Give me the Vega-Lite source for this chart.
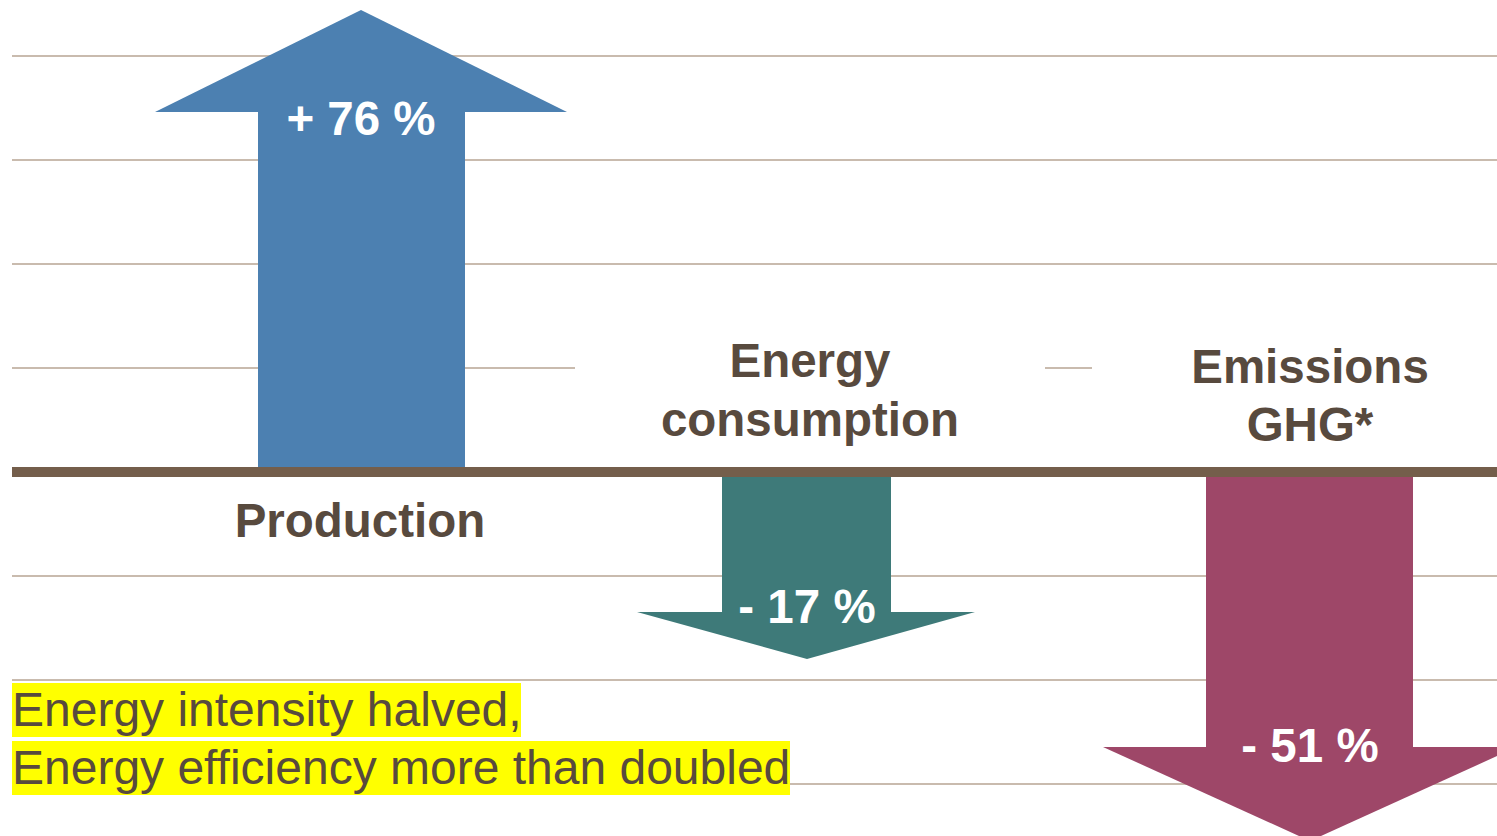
{
  "$schema": "https://vega.github.io/schema/vega-lite/v6.json",
  "width": 1497,
  "height": 836,
  "padding": 0,
  "autosize": {"type": "none"},
  "background": "white",
  "config": {"view": {"stroke": null}, "text": {"font": "Liberation Sans"}},
  "datasets": {
    "grid": [
      {"x": 12, "x2": 1497, "y": 80},
      {"x": 12, "x2": 1497, "y": 60},
      {"x": 12, "x2": 1497, "y": 40},
      {"x": 12, "x2": 575, "y": 20},
      {"x": 1045, "x2": 1092, "y": 20},
      {"x": 12, "x2": 1497, "y": -20},
      {"x": 12, "x2": 1497, "y": -40},
      {"x": 12, "x2": 1497, "y": -60}
    ],
    "baseline": [{"x": 12, "x2": 1497, "y": 0}],
    "boxes": [
      {"x": 12, "x2": 521, "y": -40.58, "y2": -50.96},
      {"x": 12, "x2": 790, "y": -51.73, "y2": -62.12}
    ],
    "shafts": [
      {"arrow": "Production", "x": 258, "x2": 465, "y": 0, "y2": 75},
      {"arrow": "Energy consumption", "x": 722, "x2": 891, "y": 0, "y2": -30},
      {"arrow": "Emissions GHG*", "x": 1206, "x2": 1413, "y": 0, "y2": -58}
    ],
    "heads": [
      {"arrow": "Production", "x": 155, "y": 69.23, "y2": 69.23},
      {"arrow": "Production", "x": 361, "y": 88.85, "y2": 69.23},
      {"arrow": "Production", "x": 567, "y": 69.23, "y2": 69.23},
      {"arrow": "Energy consumption", "x": 637, "y": -26.92, "y2": -26.92},
      {"arrow": "Energy consumption", "x": 807, "y": -35.96, "y2": -26.92},
      {"arrow": "Energy consumption", "x": 975, "y": -26.92, "y2": -26.92},
      {"arrow": "Emissions GHG*", "x": 1103, "y": -52.88, "y2": -52.88},
      {"arrow": "Emissions GHG*", "x": 1310, "y": -70.96, "y2": -52.88},
      {"arrow": "Emissions GHG*", "x": 1517, "y": -52.88, "y2": -52.88}
    ],
    "values": [
      {"label": "+ 76 %", "x": 361, "y": 64.8},
      {"label": "- 17 %", "x": 807, "y": -29.04},
      {"label": "- 51 %", "x": 1310, "y": -55.77}
    ],
    "labels": [
      {"label": "Production", "x": 360, "y": -12.5},
      {"label": "Energy", "x": 810, "y": 18.27},
      {"label": "consumption", "x": 810, "y": 6.92},
      {"label": "Emissions", "x": 1310, "y": 17.12},
      {"label": "GHG*", "x": 1310, "y": 5.96}
    ],
    "notes": [
      {"label": "Energy intensity halved,", "x": 12, "y": -48.85},
      {"label": "Energy efficiency more than doubled", "x": 12, "y": -60}
    ]
  },
  "encoding": {
    "x": {"field": "x", "type": "quantitative", "scale": {"domain": [0, 1497], "nice": false, "zero": false}, "axis": null},
    "y": {"field": "y", "type": "quantitative", "scale": {"domain": [-70, 90.77], "nice": false, "zero": false}, "axis": null}
  },
  "layer": [
    {
      "data": {"name": "grid"},
      "mark": {"type": "rule", "stroke": "#C9BBAE", "strokeWidth": 2.2},
      "encoding": {"x2": {"field": "x2"}}
    },
    {
      "data": {"name": "boxes"},
      "mark": {"type": "rect", "fill": "#FFFF00"},
      "encoding": {"x2": {"field": "x2"}, "y2": {"field": "y2"}}
    },
    {
      "data": {"name": "shafts"},
      "mark": {"type": "rect"},
      "encoding": {
        "x2": {"field": "x2"},
        "y2": {"field": "y2"},
        "color": {"field": "arrow", "type": "nominal", "scale": {"domain": ["Production", "Energy consumption", "Emissions GHG*"], "range": ["#4C80B1", "#3E7A79", "#9E4768"]}, "legend": null}
      }
    },
    {
      "data": {"name": "heads"},
      "mark": {"type": "area", "clip": true, "interpolate": "linear"},
      "encoding": {
        "y": {"field": "y", "type": "quantitative", "stack": null},
        "y2": {"field": "y2"},
        "color": {"field": "arrow", "type": "nominal", "legend": null},
        "detail": {"field": "arrow"}
      }
    },
    {
      "data": {"name": "baseline"},
      "mark": {"type": "rule", "stroke": "#745E4B", "strokeWidth": 10},
      "encoding": {"x2": {"field": "x2"}}
    },
    {
      "data": {"name": "values"},
      "mark": {"type": "text", "align": "center", "baseline": "alphabetic", "fontSize": 47.5, "fontWeight": "bold", "fill": "white"},
      "encoding": {"text": {"field": "label"}}
    },
    {
      "data": {"name": "labels"},
      "mark": {"type": "text", "align": "center", "baseline": "alphabetic", "fontSize": 47.5, "fontWeight": "bold", "fill": "#584A3E"},
      "encoding": {"text": {"field": "label"}}
    },
    {
      "data": {"name": "notes"},
      "mark": {"type": "text", "align": "left", "baseline": "alphabetic", "fontSize": 48, "fill": "#584A3E"},
      "encoding": {"text": {"field": "label"}}
    }
  ]
}
